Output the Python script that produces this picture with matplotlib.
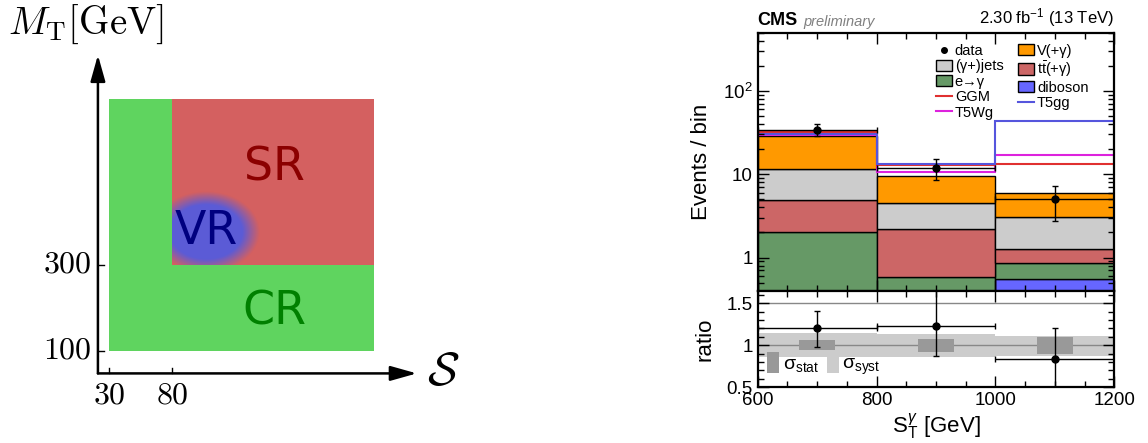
import numpy as np
import matplotlib
matplotlib.use('Agg')
import matplotlib.pyplot as plt
from matplotlib.patches import Patch, Rectangle
from matplotlib.lines import Line2D
from matplotlib.ticker import FixedLocator, FixedFormatter, MultipleLocator, LogLocator, NullFormatter

plt.rcParams['font.family'] = ['Liberation Sans', 'DejaVu Sans']
plt.rcParams['mathtext.fontset'] = 'custom'
plt.rcParams['mathtext.rm'] = 'Liberation Sans'
plt.rcParams['mathtext.it'] = 'Liberation Sans:italic'
plt.rcParams['mathtext.bf'] = 'Liberation Sans:bold'
plt.rcParams['mathtext.sf'] = 'Liberation Sans'

# ---- left schematic ----
s_ticks = [30, 80]
mt_ticks = [100, 300]
s_max = 240
mt_max = 687
s_axis = [21, 274]
mt_axis = [47, 790]
vr_center = [107, 377]
vr_radius = [36, 80]

# ---- right: S_T^gamma distribution ----
edges = [600, 800, 1000, 1200]
centers = [700, 900, 1100]
# stacked backgrounds, bottom to top
diboson = [0.02, 0.05, 0.55]
efake = [1.98, 0.54, 0.32]
ttbar = [2.9, 1.59, 0.39]
gjets = [6.6, 2.29, 1.78]
vgamma = [16.9, 5.03, 2.94]
# signal lines (on top of background)
ggm = [31.8, 12.8, 13.1]
t5wg = [29.8, 10.5, 17.2]
t5gg = [30.6, 13.3, 43.0]
data = [33.8, 12.0, 5.0]
data_up = [39.9, 15.4, 7.25]
data_down = [28.7, 8.5, 2.77]
# ratio panel
ratio = [1.20, 1.233, 0.833]
ratio_up = [1.405, 1.75, 1.20]
ratio_down = [0.98, 0.876, 0.35]
syst_lo = [0.853, 0.864, 0.876]
syst_hi = [1.143, 1.135, 1.114]
stat_lo = [0.936, 0.920, 0.897]
stat_hi = [1.063, 1.075, 1.099]

fig = plt.figure(figsize=(11.48, 4.43), dpi=100)

# ================= left panel =================
axl = fig.add_axes([0, 0, 460 / 1148, 1])
axl.set_xlim(-56.7, 308.3)
axl.set_ylim(-115.4, 918.4)
axl.axis('off')

green = '#5fd45f'
red = '#d46060'
axl.add_patch(Rectangle((s_ticks[0], mt_ticks[0]), s_max - s_ticks[0], mt_max - mt_ticks[0],
                        facecolor=green, edgecolor='none', zorder=1))
axl.add_patch(Rectangle((s_ticks[1], mt_ticks[1]), s_max - s_ticks[1], mt_max - mt_ticks[1],
                        facecolor=red, edgecolor='none', zorder=2))

# blurred VR blob, clipped to the SR box
gx = np.linspace(s_ticks[1], s_max, 300)
gy = np.linspace(mt_ticks[1], mt_max, 300)
X, Y = np.meshgrid(gx, gy)
r = np.sqrt(((X - vr_center[0]) / vr_radius[0]) ** 2 + ((Y - vr_center[1]) / vr_radius[1]) ** 2)
alpha = np.clip((1.18 - r) / 0.38, 0, 1)
img = np.zeros(X.shape + (4,))
img[..., 0] = 0.36
img[..., 1] = 0.36
img[..., 2] = 0.84
img[..., 3] = alpha
axl.imshow(img, extent=(s_ticks[1], s_max, mt_ticks[1], mt_max), origin='lower',
           aspect='auto', zorder=3, interpolation='bilinear')

axl.text(161, 526, 'SR', color='#8b0000', fontsize=33,
         family='DejaVu Sans', ha='center', va='center', zorder=4)
axl.text(161, 190, 'CR', color='#008000', fontsize=33,
         family='DejaVu Sans', ha='center', va='center', zorder=4)
axl.text(vr_center[0], vr_center[1], 'VR', color='#000080', fontsize=33,
         family='DejaVu Sans', ha='center', va='center', zorder=4)

# axes arrows
axl.annotate('', xy=(s_axis[1], mt_axis[0]), xytext=(s_axis[0], mt_axis[0]),
             arrowprops=dict(arrowstyle='-|>,head_length=1.6,head_width=0.45',
                             color='black', lw=1.8, shrinkA=0, shrinkB=0))
axl.annotate('', xy=(s_axis[0], mt_axis[1]), xytext=(s_axis[0], mt_axis[0]),
             arrowprops=dict(arrowstyle='-|>,head_length=1.6,head_width=0.45',
                             color='black', lw=1.8, shrinkA=0, shrinkB=0))
for s in s_ticks:
    axl.plot([s, s], [mt_axis[0], mt_axis[0] + 12], color='black', lw=1)
    axl.text(s, mt_axis[0] - 16, '$%d$' % s, math_fontfamily='cm', fontsize=23,
             ha='center', va='top')
for m in mt_ticks:
    axl.plot([s_axis[0], s_axis[0] + 5], [m, m], color='black', lw=1)
    axl.text(s_axis[0] - 5, m, '$%d$' % m, math_fontfamily='cm', fontsize=23,
             ha='right', va='center')
axl.text(-50, 862, r'$M_{\rm T}[\rm GeV]$', math_fontfamily='cm', fontsize=28,
         ha='left', va='center')
axl.text(s_axis[1] + 8, mt_axis[0], r'$\mathcal{S}$', math_fontfamily='cm', fontsize=34,
         ha='left', va='center')

# ================= right panel =================
ax = fig.add_axes([757.7 / 1148, 1 - 290.7 / 443, 356.6 / 1148, (290.7 - 32.5) / 443])
axr = fig.add_axes([757.7 / 1148, 1 - 387 / 443, 356.6 / 1148, (387 - 290.7) / 443], sharex=ax)

ax.set_yscale('log')
stack = [diboson, efake, ttbar, gjets, vgamma]
colors = ['#6666ff', '#669966', '#cc6666', '#cccccc', '#ff9900']
labels = ['diboson', 'e→γ', r't$\bar{\rm t}$(+γ)', '(γ+)jets', 'V(+γ)']
bottom = np.full(3, 1e-3)
handles = {}
for vals, c, lab in zip(stack, colors, labels):
    ax.bar(centers, vals, width=200, bottom=bottom, color=c, edgecolor='black', linewidth=1.0)
    bottom = bottom + np.array(vals)
    handles[lab] = Patch(facecolor=c, edgecolor='black', linewidth=1.0)

ax.stairs(t5wg, edges, baseline=None, color='#dd22dd', lw=1.5)
ax.stairs(ggm, edges, baseline=None, color='#e03030', lw=1.5)
ax.stairs(t5gg, edges, baseline=None, color='#5555dd', lw=1.5)

data = np.array(data)
yerr = [data - np.array(data_down), np.array(data_up) - data]
ax.errorbar(centers, data, yerr=yerr, xerr=100, fmt='o', color='black', ms=5,
            lw=1.0, capsize=2, zorder=5)

ax.set_ylim(0.4, 500)
ax.set_xlim(edges[0], edges[-1])
ax.yaxis.set_major_locator(FixedLocator([1, 10, 100]))
ax.yaxis.set_major_formatter(FixedFormatter(['1', '10', '$10^2$']))
ax.yaxis.set_minor_locator(LogLocator(base=10, subs=np.arange(2, 10)))
ax.yaxis.set_minor_formatter(NullFormatter())
ax.set_ylabel('Events / bin', fontsize=16, labelpad=8)
plt.setp(ax.get_xticklabels(), visible=False)

leg_handles = [Line2D([], [], marker='o', color='black', ls='none', ms=4),
               handles['(γ+)jets'], handles['e→γ'],
               Line2D([], [], color='#e03030', lw=1.5),
               Line2D([], [], color='#dd22dd', lw=1.5),
               handles['V(+γ)'], handles[r't$\bar{\rm t}$(+γ)'], handles['diboson'],
               Line2D([], [], color='#5555dd', lw=1.5)]
leg_labels = ['data', '(γ+)jets', 'e→γ', 'GGM', 'T5Wg',
              'V(+γ)', r't$\bar{\rm t}$(+γ)', 'diboson', 'T5gg']
ax.legend(leg_handles, leg_labels, ncol=2, loc='upper left', bbox_to_anchor=(0.475, 0.99),
          frameon=False, fontsize=10.5, handlelength=1.1, handleheight=0.8,
          handletextpad=0.2, labelspacing=0.1, columnspacing=1.0, borderaxespad=0.2)

ax.text(0.0, 1.012, 'CMS', transform=ax.transAxes, fontsize=13, weight='bold',
        ha='left', va='bottom')
ax.text(0.127, 1.012, 'preliminary', transform=ax.transAxes, fontsize=10.5, style='italic',
        color='#808080', ha='left', va='bottom')
ax.text(1.0, 1.012, r'2.30 fb$^{-1}$ (13 TeV)', transform=ax.transAxes, fontsize=12,
        ha='right', va='bottom')

# ratio panel
for i in range(3):
    axr.fill_between([edges[i], edges[i + 1]], syst_lo[i], syst_hi[i], color='#cccccc',
                     lw=0, zorder=1)
    axr.add_patch(Rectangle((centers[i] - 30, stat_lo[i]), 60, stat_hi[i] - stat_lo[i],
                            facecolor='#999999', edgecolor='none', zorder=2))
axr.axhline(1.0, color='#888888', lw=1, zorder=1.5)
axr.axhline(1.5, color='#888888', lw=1, zorder=1.5)
ratio = np.array(ratio)
rerr = [ratio - np.array(ratio_down), np.array(ratio_up) - ratio]
axr.errorbar(centers, ratio, yerr=rerr, xerr=100, fmt='o', color='black', ms=5,
             lw=1.0, capsize=2, zorder=5)
axr.set_ylim(0.5, 1.65)
axr.yaxis.set_major_locator(FixedLocator([0.5, 1, 1.5]))
axr.yaxis.set_major_formatter(FixedFormatter(['0.5', '1', '1.5']))
axr.yaxis.set_minor_locator(MultipleLocator(0.1))
axr.xaxis.set_major_locator(FixedLocator(edges))
axr.xaxis.set_minor_locator(MultipleLocator(50))
axr.set_ylabel('ratio', fontsize=16, labelpad=8)
axr.set_xlabel(r'S$_{\rm T}^{\gamma}$ [GeV]', fontsize=16, labelpad=2)
axr.legend([Patch(facecolor='#999999'), Patch(facecolor='#cccccc')],
           [r'σ$_{\rm stat}$', r'σ$_{\rm syst}$'], ncol=2, loc='lower left',
           frameon=False, fontsize=14, handlelength=0.6, handleheight=1.3,
           handletextpad=0.2, columnspacing=0.4, borderaxespad=0.1)

for a in (ax, axr):
    a.tick_params(which='both', direction='in', top=True, right=True, labelsize=13.5)
    a.tick_params(which='major', length=8, width=1)
    a.tick_params(which='minor', length=4, width=1)
    for sp in a.spines.values():
        sp.set_linewidth(1.6)

fig.savefig('out.png', dpi=100)
